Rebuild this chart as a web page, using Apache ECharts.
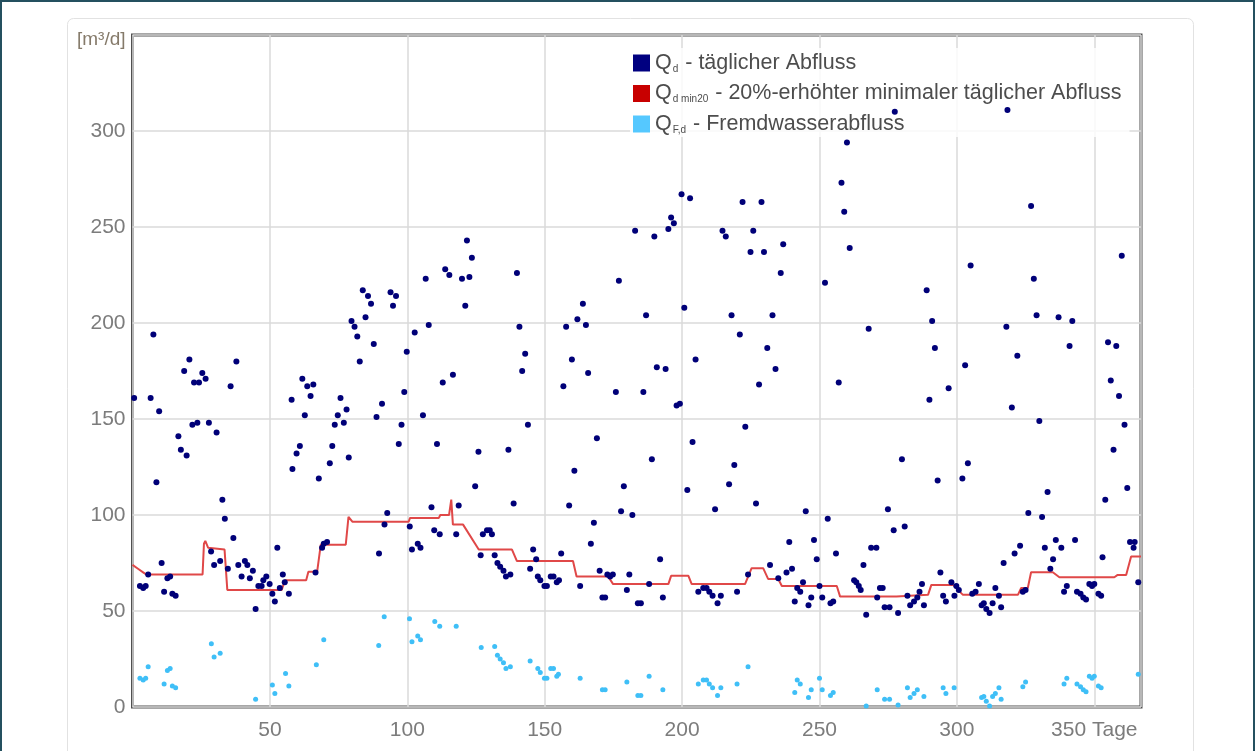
<!DOCTYPE html>
<html><head><meta charset="utf-8">
<script src="https://cdn.jsdelivr.net/npm/echarts@6/dist/echarts.min.js"></script>
<style>html,body{margin:0;padding:0;background:#fff;}#c{width:1255px;height:751px;}</style>
</head><body><div id="c"></div>
<script>
// Q_d - daily flow (day, m³/d)
const qdDays = [0.6,2.7,3.9,4.8,5.7,6.6,7.6,8.7,9.7,10.6,11.5,12.7,13.7,14.5,15.7,16.7,17.6,18.8,19.7,20.7,21.8,22.4,23.6,24.2,25.4,26.6,27.8,28.6,29.7,30.6,31.9,32.7,33.6,34.7,35.7,36.7,37.8,38.5,39.7,40.9,41.8,42.7,43.8,44.8,45.8,47,47.6,48.7,49.9,50.9,51.8,52.7,53.6,54.7,55.4,56.9,57.9,58.2,59.7,60.9,61.8,62.7,63.6,64.8,65.8,66.6,67.8,69,69.6,70.8,71.8,72.7,73.6,74.7,75.7,76.9,77.9,78.7,79.7,80.8,81.8,82.7,83.8,84.8,85.7,86.8,87.8,88.8,89.7,90.8,91.7,92.7,93.9,94.8,95.9,96.9,97.9,98.9,99.8,100.9,101.7,102.7,103.8,104.8,105.7,106.7,107.8,108.8,109.8,110.8,111.8,112.9,113.8,115.3,116.6,117.8,118.7,119.9,121.1,121.7,122.6,123.5,124.7,125.9,126.7,127.5,129,130,130.8,131.8,132.8,133.8,135,135.9,136.8,137.5,138.7,139.9,140.8,141.8,142.9,143.9,144.7,145.8,146.9,147.5,148.4,149.9,150.8,152.2,153.2,154.4,155.2,156,156.8,157.8,158.9,159.9,160.8,161.9,162.9,163.9,165,165.8,166.8,167.9,169,170,171,172,172.8,173.8,174.8,175.9,177,177.8,178.8,179.9,180.8,181.9,182.9,183.9,185,185.9,186.9,188,189,189.9,190.8,192,193,194,195,196,197,198,199.2,199.8,200.8,201.9,202.9,203.8,204.9,205.9,207.7,208.9,209.9,211.1,212,212.9,214.1,214.7,215.9,217.1,218,219,220,221,222,223,224,224.9,225.9,226.9,228,228.9,229.8,231,232,232.9,234,235,235.9,236.8,238,239,240,241,241.9,243,244,245,246,247,248,249,250,251,252,253,254,255,256,257,258,259,260,261,262.6,263.4,264.3,265,266,267,267.9,268.8,270.7,271,272,273,273.7,274.9,275.5,277,277.4,278.6,280,281,282,283,284.4,285.6,286.4,287.3,288,289,290,291,292,293,294,295,296,297,298,299.1,299.8,300.7,302,303,304,305,305.6,306.8,308,309,309.8,310.7,311.9,313,314,315.3,316.1,317,318,318.4,320,321,322,323,324,325,326,327,328,329,330,331,332,333,334,335,336,337,338,339,340,341,342,343,343.7,345,346,347,348.2,349.2,350,351.5,352.5,353,354,355,356,357,358,359,360,361,362,363,364.3,364.7,366];
const qdValues = [161,63,62,63,69,161,194,117,154,75,60,67,68,59,58,141,134,175,131,181,147,169,148,169,174,171,148,81,74,143,76,108,98,72,167,88,180,74,68,76,74,67,71,51,63,63,66,68,64,59,55,83,62,69,65,59,160,124,132,136,171,152,167,162,168,70,119,83,85,86,127,136,147,152,161,148,155,130,201,198,193,180,217,203,214,210,189,151,80,158,95,101,216,209,214,137,147,164,185,94,82,195,85,83,152,223,199,104,92,137,90,169,228,225,173,90,105,223,209,243,224,234,115,133,79,90,92,92,90,79,75,73,71,68,134,69,106,226,198,175,184,147,72,82,77,68,66,63,63,68,68,65,66,80,167,198,105,181,123,202,63,210,199,174,85,96,140,71,57,57,69,68,69,164,222,102,115,61,69,100,248,54,54,164,204,64,129,245,177,77,57,176,249,255,252,157,158,267,208,113,265,138,181,60,62,62,60,58,103,54,58,248,245,116,204,126,60,194,263,146,69,237,248,106,168,263,237,187,74,204,176,67,226,241,70,86,72,55,62,60,65,102,53,57,87,77,63,57,221,98,54,55,80,169,273,258,294,239,66,65,63,61,74,48,197,83,83,57,62,62,52,103,52,92,310,49,129,94,58,53,55,57,60,64,53,217,160,201,187,118,70,58,55,166,65,58,63,61,119,178,127,230,59,60,64,53,54,51,49,54,62,58,52,75,198,311,156,80,183,84,60,61,101,261,223,204,149,99,83,112,72,77,87,203,83,60,63,188,201,87,60,59,57,56,64,63,64,59,58,78,108,190,170,134,188,162,235,147,114,86,83,86,65];

// Q_F,d - infiltration (extraneous water) flow
const qfDays = [2.7,3.9,4.8,5.7,11.5,12.7,13.7,14.5,15.7,28.7,29.7,31.9,44.8,50.9,51.8,55.7,56.9,66.9,69.6,89.6,91.6,100.8,101.7,103.8,104.8,110,111.8,117.8,126.9,131.8,132.8,133.8,135,135.9,137.5,144.7,147.5,148.4,149.9,150.8,152.2,153.2,154.4,155,162.9,171,172,179.9,183.9,185,188,193,205.9,207.7,208.9,209.9,211.1,212.9,214.1,220,224,241,241.9,243,246,247,250,251,254,255,267,271,273.7,275.5,278.6,282,283,284.4,285.6,288,295,296,299,309,309.8,310.7,311.9,313,314,315.3,316.1,324,325,339,340,343.7,345,346,347,348.2,349.2,350,351.5,352.5,366];
const qfValues = [15,14,15,21,12,19,20,11,10,33,26,28,4,11.5,7,17.5,11,22,35,32,47,46,34,37,35,44.5,42,42,31,31.5,27,25,23,20,21,24,20,18,15,15,20,20,16,17,15,9,9,13,6,6,16,9,12,14,14,12,10,6,10,12,21,7.5,14,12,5,9,15,9,6,7.5,0.5,9,4,4,1,10,5,7,9,5.5,10,7,10,5,5.5,3,0.5,5.5,7,10,4,10.5,13,12,15,12,10.5,9,8,16,15,16,11,10,17];

// Q_d,min20 - 20 % raised minimum daily flow (vertices of the step line)
const qminDays = [0,2,4,5,25.5,26,26.5,27.5,33.5,34.5,54.3,55.5,63.2,64,67.2,68.5,77.6,78.6,80,100.5,101,111.5,112,115.2,116,116.6,120.3,126,138.1,139.9,160.3,161.6,173.1,174.9,195,196,202.3,203.5,222.9,225.3,229.5,231.3,235,236.3,256.3,257.5,278,278.6,289.5,290.7,298.6,302.2,322.2,323.4,325.8,327,334.9,337.3,357.3,358.5,361.6,363.4,367];
const qminValues = [74,72,70,69,69,85,86.5,83,82,61,61,66,66,70.5,70.5,84.5,84.5,99,96.5,96.5,98.5,98.5,100,100,108,95,95,82,82,76,76,68,68,64,64,68.3,68.3,64,64,72.3,72.3,66.7,66.7,63,63,57.5,57.5,58.4,58.4,63.6,63.6,58.4,58.4,62,62,70.2,70.2,67.6,67.6,68.8,68.8,78.4,78.4];

// axis ticks
const xTicks = [50,100,150,200,250,300,350];
const yTicks = [0,50,100,150,200,250,300];

const NAME_QD = 'Qd - täglicher Abfluss';
const NAME_QMIN = 'Qd min20 - 20%-erhöhter minimaler täglicher Abfluss';
const NAME_QF = 'QF,d - Fremdwasserabfluss';
const legendRich = {};
legendRich[NAME_QD] = '{t|Q}{s|d}{t| - täglicher Abfluss}';
legendRich[NAME_QMIN] = '{t|Q}{s|d min20}{t| - 20%-erhöhter minimaler täglicher Abfluss}';
legendRich[NAME_QF] = '{t|Q}{s|F,d}{t| - Fremdwasserabfluss}';

const zip = (a, b) => a.map((v, i) => [v, b[i]]);
const FONT = '"Liberation Sans", Arial, sans-serif';

const chart = echarts.init(document.getElementById('c'));
chart.setOption({
  backgroundColor: '#ffffff',
  animation: false,
  graphic: [
    { type: 'rect', z: -10, shape: { x: 67.5, y: 18.5, width: 1126, height: 740, r: 6 },
      style: { fill: '#ffffff', stroke: '#e2e2e2', lineWidth: 1 } },
    { type: 'rect', z: 100, silent: true, shape: { x: 1, y: 1, width: 1253, height: 770 },
      style: { fill: null, stroke: '#24505f', lineWidth: 2 } }
  ],
  grid: { left: 132.5, right: 114, top: 35, bottom: 44, show: true, borderColor: '#505050', borderWidth: 3, backgroundColor: 'transparent' },
  legend: {
    orient: 'vertical', left: 630, top: 48,
    padding: [4, 8, 2, 3],
    itemWidth: 17, itemHeight: 17, itemGap: 8.5,
    backgroundColor: 'rgba(255,255,255,0.82)',
    selectedMode: false,
    data: [
      { name: NAME_QD, icon: 'rect', itemStyle: { color: '#000080', borderWidth: 0, opacity: 1 } },
      { name: NAME_QMIN, icon: 'rect', itemStyle: { color: '#c80000', borderWidth: 0, opacity: 1 } },
      { name: NAME_QF, icon: 'rect', itemStyle: { color: '#55c8ff', borderWidth: 0, opacity: 1 } }
    ],
    formatter: n => legendRich[n] || n,
    textStyle: {
      fontFamily: FONT, fontSize: 21.5, color: '#4d4d4d',
      rich: {
        t: { fontFamily: FONT, fontSize: 21.5, color: '#4d4d4d', lineHeight: 22 },
        s: { fontFamily: FONT, fontSize: 10, color: '#4d4d4d', lineHeight: 12, verticalAlign: 'bottom', padding: [0, 1, 0, 1] }
      }
    }
  },
  xAxis: {
    type: 'value', min: 0, max: 367, interval: 50,
    axisLine: { show: false }, axisTick: { show: false },
    axisLabel: {
      color: '#7c7c7c', fontFamily: FONT, fontSize: 21, margin: 13, showMaxLabel: false,
      formatter: v => xTicks.indexOf(v) < 0 ? '' : (v === 350 ? '350 Tage' : String(v))
    },
    splitLine: { show: true, lineStyle: { color: '#dadada', width: 1.5 } }
  },
  yAxis: {
    type: 'value', min: 0, max: 350, interval: 50,
    axisLine: { show: false }, axisTick: { show: false },
    axisLabel: {
      color: '#7c7c7c', fontFamily: FONT, fontSize: 21, margin: 7,
      formatter: v => v === 350 ? '{u|[m³/d]}' : (yTicks.indexOf(v) < 0 ? '' : String(v)),
      rich: { u: { fontFamily: FONT, fontSize: 19, color: '#857a6a', padding: [10, 0, 0, 0] } }
    },
    splitLine: { show: true, lineStyle: { color: '#dadada', width: 1.5 } }
  },
  series: [
    { name: NAME_QMIN, type: 'line', data: zip(qminDays, qminValues), showSymbol: false, symbol: 'none',
      lineStyle: { color: '#e04848', width: 2, opacity: 1 }, itemStyle: { color: '#c80000' }, z: 2 },
    { name: NAME_QF, type: 'scatter', data: zip(qfDays, qfValues), symbolSize: 5,
      itemStyle: { color: '#3fbff7', opacity: 1 }, z: 3 },
    { name: NAME_QD, type: 'scatter', data: zip(qdDays, qdValues), symbolSize: 6,
      itemStyle: { color: '#000078', opacity: 1 }, z: 4 }
  ]
});
</script></body></html>
